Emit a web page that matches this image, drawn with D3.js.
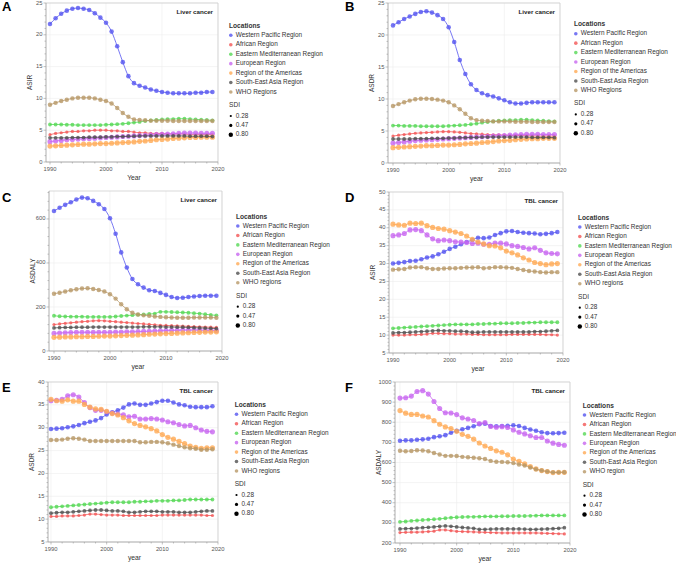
<!DOCTYPE html>
<html>
<head>
<meta charset="utf-8">
<script src="https://cdn.jsdelivr.net/npm/d3@7"></script>
<style>
body { margin: 0; background: #fff; }
text { font-family: "Liberation Sans", Arial, sans-serif; }
</style>
</head>
<body>
<div class="chart"></div>
<script>
// years on the x axis
const years = d3.range(1990, 2020);

const regions = ["Western Pacific Region", "African Region", "Eastern Mediterranean Region",
    "European Region", "Region of the Americas", "South-East Asia Region", "WHO Regions"];
const colors = ["#5555f0", "#f25555", "#55d855", "#c866f0", "#ffaa55", "#505050", "#b89868"];
const sdi = [0.65, 0.38, 0.5, 0.78, 0.8, 0.48, 0.62];
const sdiLegend = [0.28, 0.47, 0.80];

// A: liver cancer ASIR
const liverASIR = [
    [21.7,22.6,23.3,23.8,24.1,24.2,24.1,23.9,23.4,22.7,21.9,20.5,18.2,15.7,13.5,12.4,12.0,11.7,11.4,11.2,11.0,10.9,10.8,10.8,10.8,10.8,10.9,10.9,11.0,11.0],
    [4.3,4.5,4.6,4.7,4.8,4.8,4.9,4.9,5.0,5.0,5.0,4.9,4.9,4.8,4.8,4.7,4.6,4.6,4.5,4.5,4.5,4.4,4.4,4.4,4.4,4.3,4.3,4.3,4.3,4.3],
    [5.9,5.9,5.9,5.85,5.85,5.8,5.8,5.8,5.8,5.8,5.85,5.9,5.95,6.0,6.1,6.2,6.3,6.45,6.55,6.6,6.7,6.75,6.75,6.8,6.8,6.75,6.7,6.65,6.6,6.55],
    [3.2,3.3,3.4,3.5,3.55,3.6,3.65,3.7,3.75,3.8,3.85,3.9,3.95,4.0,4.05,4.1,4.15,4.2,4.25,4.3,4.35,4.4,4.45,4.5,4.55,4.55,4.55,4.5,4.5,4.5],
    [2.5,2.55,2.6,2.65,2.7,2.75,2.8,2.8,2.85,2.9,2.9,2.95,3.0,3.05,3.1,3.15,3.25,3.3,3.4,3.5,3.55,3.6,3.7,3.75,3.8,3.85,3.85,3.9,3.9,3.9],
    [3.8,3.8,3.8,3.8,3.85,3.85,3.85,3.9,3.9,3.9,3.95,3.95,4.0,4.0,4.05,4.05,4.1,4.1,4.1,4.1,4.1,4.1,4.1,4.1,4.1,4.05,4.05,4.05,4.05,4.0],
    [9.0,9.3,9.6,9.8,10.0,10.1,10.1,10.1,10.0,9.8,9.6,9.2,8.5,7.7,7.1,6.7,6.6,6.55,6.5,6.5,6.5,6.5,6.45,6.45,6.45,6.45,6.45,6.45,6.45,6.45]
];

// B: liver cancer ASDR
const liverASDR = [
    [21.5,22.0,22.5,22.9,23.3,23.6,23.7,23.5,23.1,22.5,21.2,18.9,16.1,13.9,12.3,11.4,10.9,10.6,10.4,10.1,9.8,9.5,9.3,9.3,9.4,9.5,9.5,9.5,9.5,9.5],
    [4.2,4.35,4.45,4.55,4.65,4.7,4.75,4.8,4.85,4.9,4.9,4.85,4.8,4.7,4.6,4.55,4.5,4.45,4.4,4.4,4.35,4.3,4.3,4.3,4.25,4.25,4.2,4.2,4.2,4.2],
    [5.85,5.85,5.8,5.8,5.8,5.75,5.75,5.75,5.75,5.75,5.8,5.85,5.9,5.95,6.05,6.15,6.3,6.4,6.5,6.6,6.65,6.7,6.7,6.75,6.75,6.7,6.65,6.6,6.55,6.5],
    [3.1,3.2,3.3,3.4,3.5,3.55,3.6,3.65,3.7,3.75,3.8,3.85,3.9,3.95,4.0,4.05,4.1,4.15,4.2,4.25,4.3,4.35,4.4,4.45,4.5,4.5,4.5,4.45,4.45,4.45],
    [2.4,2.45,2.5,2.55,2.6,2.65,2.7,2.7,2.75,2.8,2.8,2.85,2.9,3.0,3.05,3.1,3.2,3.25,3.35,3.45,3.5,3.55,3.65,3.7,3.75,3.8,3.8,3.85,3.85,3.85],
    [3.75,3.75,3.75,3.75,3.8,3.8,3.8,3.85,3.85,3.85,3.9,3.9,3.95,3.95,4.0,4.0,4.05,4.05,4.05,4.05,4.05,4.05,4.05,4.05,4.05,4.0,4.0,4.0,4.0,3.95],
    [8.9,9.2,9.5,9.75,9.95,10.05,10.05,10.0,9.9,9.75,9.5,9.0,8.4,7.7,7.0,6.7,6.6,6.55,6.5,6.5,6.5,6.5,6.45,6.45,6.45,6.4,6.4,6.4,6.4,6.4]
];

// C: liver cancer ASDALY
const liverDALY = [
    [636,651,664,676,688,697,694,682,667,645,603,533,448,379,327,303,288,276,273,264,255,245,241,242,245,248,250,251,251,251],
    [120,123,126,128,131,133,135,137,138,137,135,133,131,129,127,125,123,121,119,117,116,115,114,113,112,111,110,109,108,107],
    [160,158,157,156,156,156,155,155,155,155,155,157,159,161,163,165,166,168,170,178,178,177,176,175,174,172,170,167,164,162],
    [80,82,83,84,85,85,85,85,85,85,85,86,86,87,87,88,89,90,91,92,93,94,94,95,95,95,95,94,94,93],
    [62,63,64,64,65,65,66,66,67,68,68,69,70,71,72,73,74,76,77,78,79,80,81,82,83,84,85,86,86,87],
    [105,106,107,107,108,108,108,109,109,109,109,109,109,109,109,109,110,110,110,110,109,109,108,108,107,106,105,104,103,102],
    [260,265,270,276,281,284,285,282,277,270,258,238,212,190,174,166,162,160,157,155,153,152,151,151,151,152,152,152,152,151]
];

// D: TBL cancer ASIR
const tblASIR = [
    [30.0,30.2,30.4,30.7,30.8,31.2,31.7,32.0,32.6,33.3,34.1,34.7,35.4,36.0,36.6,37.2,37.1,37.3,38.0,38.5,39.0,39.1,38.8,38.6,38.5,38.4,38.2,38.3,38.5,38.8],
    [10.0,10.0,10.0,10.1,10.1,10.2,10.3,10.5,10.5,10.4,10.4,10.3,10.3,10.3,10.2,10.2,10.1,10.1,10.1,10.1,10.1,10.2,10.2,10.2,10.2,10.2,10.2,10.1,10.1,10.0],
    [11.9,12.0,12.1,12.2,12.3,12.4,12.5,12.6,12.7,12.8,12.9,13.0,13.0,13.0,13.0,13.1,13.1,13.2,13.2,13.3,13.3,13.3,13.4,13.4,13.5,13.5,13.6,13.6,13.6,13.6],
    [37.8,38.0,38.4,39.4,39.5,39.2,38.0,36.9,36.4,36.6,36.4,36.1,36.0,35.9,35.6,35.7,35.4,35.4,35.7,35.7,35.5,35.0,34.8,34.5,34.1,34.4,33.7,33.0,32.8,32.7],
    [41.0,40.8,40.7,41.3,41.2,41.3,40.6,40.1,39.8,39.6,39.2,38.8,38.4,37.7,36.8,36.0,35.5,35.0,34.9,34.4,33.5,33.0,32.4,31.6,31.0,30.3,30.0,29.7,29.9,30.0],
    [10.6,10.7,10.7,10.8,10.9,11.0,11.1,11.2,11.3,11.2,11.2,11.1,11.1,11.0,10.8,10.8,10.9,10.9,10.9,10.9,10.9,10.9,10.9,10.9,10.9,11.0,11.0,11.1,11.2,11.3],
    [28.3,28.4,28.5,28.9,29.0,29.0,28.7,28.5,28.5,28.6,28.7,28.7,28.8,28.9,28.9,29.0,28.7,28.8,29.0,29.0,28.9,28.8,28.5,28.2,27.9,27.8,27.6,27.5,27.6,27.6]
];

// E: TBL cancer ASDR
const tblASDR = [
    [29.7,29.8,29.9,30.1,30.3,30.6,31.0,31.3,31.6,32.1,32.9,33.4,33.8,34.4,35.1,35.3,35.0,35.0,35.3,35.6,35.9,35.9,35.5,35.1,34.9,34.6,34.5,34.5,34.5,34.7],
    [10.6,10.6,10.7,10.7,10.7,10.8,10.9,11.1,11.1,11.0,10.9,10.9,10.9,10.8,10.8,10.8,10.8,10.8,10.8,10.8,10.9,10.9,10.9,10.9,10.9,10.9,10.9,10.9,10.8,10.8],
    [12.6,12.7,12.8,12.9,13.0,13.1,13.2,13.3,13.4,13.5,13.6,13.7,13.7,13.7,13.7,13.8,13.8,13.9,13.9,14.0,14.0,14.0,14.1,14.1,14.2,14.3,14.3,14.3,14.3,14.3],
    [35.9,36.0,36.2,37.0,37.2,36.7,35.5,34.4,33.8,33.8,33.5,33.2,33.0,32.8,32.4,32.5,31.9,31.9,32.0,31.9,31.7,31.3,31.1,30.7,30.4,30.5,30.0,29.5,29.2,29.1],
    [36.2,35.9,35.8,36.1,35.8,35.8,35.1,34.5,34.1,34.0,33.6,33.1,32.8,32.2,31.5,30.9,30.5,30.2,29.8,29.3,28.5,27.9,27.5,27.0,26.5,26.0,25.7,25.5,25.6,25.6],
    [11.3,11.4,11.5,11.5,11.6,11.7,11.8,11.9,12.0,12.0,11.9,11.8,11.8,11.7,11.5,11.5,11.6,11.7,11.7,11.7,11.6,11.6,11.6,11.5,11.5,11.5,11.6,11.7,11.8,11.8],
    [27.3,27.3,27.4,27.6,27.7,27.6,27.4,27.1,27.1,27.1,27.1,27.1,27.1,27.1,27.1,27.1,26.8,26.8,26.9,26.9,26.8,26.6,26.3,26.0,25.7,25.5,25.4,25.2,25.2,25.3]
];

// F: TBL cancer ASDALY
const tblDALY = [
    [708,710,710,713,715,718,726,730,736,748,757,765,772,780,790,793,781,780,781,782,785,781,772,764,758,750,746,745,746,748],
    [252,253,254,254,255,257,259,265,265,261,258,257,256,255,254,253,252,251,250,250,250,250,250,250,250,249,248,247,246,245],
    [305,307,310,312,314,316,318,320,323,326,328,329,330,330,331,332,332,332,333,333,334,334,334,335,336,337,337,337,337,337],
    [920,922,930,953,957,940,903,868,847,846,838,822,816,809,794,798,779,775,778,774,762,750,742,733,724,724,707,696,690,686],
    [858,845,839,839,831,826,808,790,777,769,755,740,730,716,697,682,670,658,651,638,617,606,593,580,568,560,555,550,551,551],
    [270,271,272,274,276,278,280,283,285,283,280,277,275,273,268,268,269,270,270,270,270,270,269,268,268,269,270,271,273,276],
    [658,656,657,661,660,656,647,640,633,633,632,628,626,624,621,617,608,604,603,601,597,590,585,575,566,560,555,551,551,552]
];

const panels = [
    {letter:"A", lx:2,   ly:11,  data:liverASIR, left:46,  x0:50,  x1:218, top:3,   bottom:162, y:[0,25],   major:5,   minor:1,  ylab:"ASIR",   xlab:"Year", title:"Liver cancer", who:"WHO Regions", leg:[229,35.3]},
    {letter:"B", lx:345, ly:11,  data:liverASDR, left:388, x0:393, x1:560, top:3,   bottom:163, y:[0,25],   major:5,   minor:1,  ylab:"ASDR",   xlab:"year", title:"Liver cancer", who:"WHO Regions", leg:[574,33.7]},
    {letter:"C", lx:2,   ly:202, data:liverDALY, left:49,  x0:54,  x1:222, top:191, bottom:351, y:[0,727],  major:200, minor:40, ylab:"ASDALY", xlab:"year", title:"Liver cancer", who:"WHO regions", leg:[236,226]},
    {letter:"D", lx:345, ly:202, data:tblASIR,   left:389, x0:393, x1:563, top:192, bottom:353, y:[5,50],   major:5,   minor:1,  ylab:"ASIR",   xlab:"year", title:"TBL cancer",   who:"WHO regions", leg:[578,227]},
    {letter:"E", lx:2,   ly:392, data:tblASDR,   left:48,  x0:51,  x1:218, top:382, bottom:542, y:[5,40],   major:5,   minor:1,  ylab:"ASDR",   xlab:"year", title:"TBL cancer",   who:"WHO regions", leg:[234.7,414.3]},
    {letter:"F", lx:345, ly:392, data:tblDALY,   left:395, x0:400, x1:570, top:382, bottom:543, y:[200,1000], major:100, minor:20, ylab:"ASDALY", xlab:"year", title:"TBL cancer",   who:"WHO region",  leg:[582.7,415]}
];

const svg = d3.select(".chart").append("svg")
    .attr("width", 676)
    .attr("height", 563);

const rScale = d3.scaleSqrt().domain([0.28, 0.80]).range([1.3, 2.6]);

panels.forEach(p => {
    const g = svg.append("g");

    const x = d3.scaleLinear().domain([1990, 2020]).range([p.x0, p.x1]);
    const y = d3.scaleLinear().domain(p.y).range([p.bottom, p.top]);

    const yTicks = d3.range(p.y[0], p.y[1] + 0.001, p.major);
    const yMinor = d3.range(p.y[0], p.y[1] + 0.001, p.minor);
    const xTicks = [1990, 2000, 2010, 2020];
    const xMinor = d3.range(1990, 2021, 2);

    // grid
    g.selectAll(".gy").data(yTicks).join("line")
        .attr("x1", p.left).attr("x2", p.x1)
        .attr("y1", d => y(d)).attr("y2", d => y(d))
        .attr("stroke", "#ececec").attr("stroke-width", 0.6);
    g.selectAll(".gx").data(xTicks).join("line")
        .attr("x1", d => x(d)).attr("x2", d => x(d))
        .attr("y1", p.top).attr("y2", p.bottom)
        .attr("stroke", "#ececec").attr("stroke-width", 0.6);

    // frame
    g.append("path")
        .attr("d", `M${p.left},${p.top}H${p.x1}V${p.bottom}`)
        .attr("fill", "none").attr("stroke", "#cfcfcf").attr("stroke-width", 0.8);
    g.append("path")
        .attr("d", `M${p.left},${p.top}V${p.bottom}H${p.x1}`)
        .attr("fill", "none").attr("stroke", "#999").attr("stroke-width", 0.8);

    // ticks
    g.selectAll(".ty").data(yMinor).join("line")
        .attr("x1", p.left).attr("x2", d => p.left - (yTicks.some(t => Math.abs(t - d) < 1e-6) ? 2.5 : 1.5))
        .attr("y1", d => y(d)).attr("y2", d => y(d))
        .attr("stroke", "#999").attr("stroke-width", 0.6);
    g.selectAll(".tx").data(xMinor).join("line")
        .attr("x1", d => x(d)).attr("x2", d => x(d))
        .attr("y1", p.bottom).attr("y2", d => p.bottom + (d % 10 === 0 ? 2.5 : 1.5))
        .attr("stroke", "#999").attr("stroke-width", 0.6);

    g.selectAll(".ly").data(yTicks).join("text")
        .attr("x", p.left - 3.5).attr("y", d => y(d))
        .attr("text-anchor", "end").attr("dominant-baseline", "middle")
        .attr("font-size", 5.8).attr("fill", "#555")
        .text(d => d);
    g.selectAll(".lx").data(xTicks).join("text")
        .attr("x", d => x(d)).attr("y", p.bottom + 7.5)
        .attr("text-anchor", "middle").attr("dominant-baseline", "middle")
        .attr("font-size", 5.8).attr("fill", "#555")
        .text(d => d);

    // axis titles
    g.append("text")
        .attr("transform", `translate(${p.left - 16},${(p.top + p.bottom) / 2}) rotate(-90)`)
        .attr("text-anchor", "middle").attr("dominant-baseline", "middle")
        .attr("font-size", 6.5).attr("fill", "#333")
        .text(p.ylab);
    g.append("text")
        .attr("x", (p.x0 + p.x1) / 2).attr("y", p.bottom + 16)
        .attr("text-anchor", "middle").attr("dominant-baseline", "middle")
        .attr("font-size", 6.8).attr("fill", "#333")
        .text(p.xlab);

    // panel title
    g.append("text")
        .attr("x", p.x1 - 5).attr("y", p.top + 11)
        .attr("text-anchor", "end")
        .attr("font-size", 6.2).attr("font-weight", "bold").attr("fill", "#222")
        .text(p.title);

    // panel letter
    g.append("text")
        .attr("x", p.lx).attr("y", p.ly)
        .attr("font-size", 13).attr("font-weight", "bold").attr("fill", "#000")
        .text(p.letter);

    // series
    const line = d3.line()
        .x((d, i) => x(years[i]))
        .y(d => y(d))
        .curve(d3.curveMonotoneX);

    p.data.forEach((vals, k) => {
        g.append("path")
            .attr("d", line(vals))
            .attr("fill", "none")
            .attr("stroke", colors[k])
            .attr("stroke-width", 0.8);
        g.selectAll(null).data(vals).join("circle")
            .attr("cx", (d, i) => x(years[i]))
            .attr("cy", d => y(d))
            .attr("r", rScale(sdi[k]))
            .attr("fill", colors[k])
            .attr("fill-opacity", 0.8);
    });

    // legend
    const [lx, ly] = p.leg;
    const step = 9.45;
    g.append("text")
        .attr("x", lx).attr("y", ly - 9)
        .attr("dominant-baseline", "middle")
        .attr("font-size", 6.6).attr("font-weight", "bold").attr("fill", "#333")
        .text("Locations");
    const labels = regions.slice(0, 6).concat([p.who]);
    labels.forEach((name, k) => {
        g.append("circle")
            .attr("cx", lx + 1.8).attr("cy", ly + k * step)
            .attr("r", 1.8).attr("fill", colors[k]).attr("fill-opacity", 0.8);
        g.append("text")
            .attr("x", lx + 6.8).attr("y", ly + k * step)
            .attr("dominant-baseline", "middle")
            .attr("font-size", 6.4).attr("fill", "#333")
            .text(name);
    });
    g.append("text")
        .attr("x", lx).attr("y", ly + 70)
        .attr("dominant-baseline", "middle")
        .attr("font-size", 6.6).attr("fill", "#333")
        .text("SDI");
    sdiLegend.forEach((s, k) => {
        const cy = ly + 80.7 + k * 9.4;
        g.append("circle")
            .attr("cx", lx + 1.8).attr("cy", cy)
            .attr("r", rScale(s) * 0.85).attr("fill", "#000");
        g.append("text")
            .attr("x", lx + 6.8).attr("y", cy)
            .attr("dominant-baseline", "middle")
            .attr("font-size", 6.4).attr("fill", "#333")
            .text(s.toFixed(2));
    });
});
</script>
</body>
</html>
